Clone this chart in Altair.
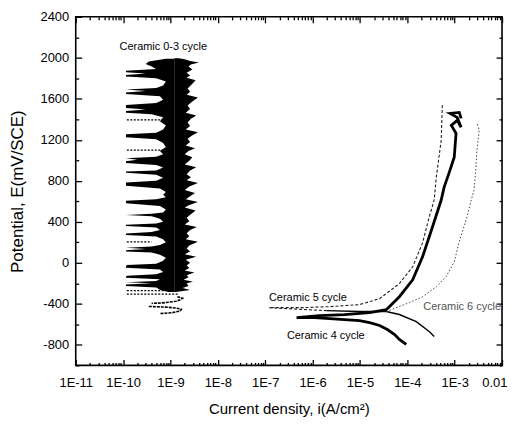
import altair as alt
import pandas as pd

# ---------------- data ----------------
# Ceramic 0-3 cycle: noisy band, left boundary (E in mV, i in A/cm2)
C03_LEFT_E = [-285, -262, -240, -225, -212, -200, -188, -176, -160, -145, -135, -125, -112, -90, -65,
              -48, -35, -22, -8, 20, 50, 80, 100, 112, 124, 136, 148, 160, 175, 200, 230, 258, 272, 286,
              300, 320, 345, 360, 372, 384, 400, 430, 455, 466, 478, 492, 520, 555, 582, 594, 606, 620,
              640, 665, 690, 725, 752, 768, 784, 800, 830, 860, 878, 890, 902, 930, 955, 975, 990, 1005,
              1020, 1035, 1060, 1090, 1130, 1170, 1205, 1225, 1240, 1255, 1270, 1300, 1340, 1380, 1420,
              1450, 1465, 1480, 1495, 1510, 1525, 1540, 1560, 1590, 1625, 1648, 1662, 1676, 1690, 1705,
              1730, 1770, 1800, 1818, 1832, 1846, 1860, 1874, 1890, 1915, 1940, 1965, 1990]
C03_LEFT_I = [9e-10, 6e-10, 5e-10, 1.15e-10, 1.15e-10, 4e-10, 1.15e-10, 5e-10, 6e-10, 1.15e-10, 1.15e-10,
              1.2e-10, 5e-10, 7e-10, 6e-10, 1.15e-10, 1.15e-10, 1.2e-10, 5e-10, 7e-10, 8e-10, 6e-10, 4e-10,
              1.15e-10, 1.15e-10, 3e-10, 1.15e-10, 4e-10, 6e-10, 8e-10, 7e-10, 5e-10, 1.15e-10, 1.15e-10,
              4e-10, 6e-10, 5e-10, 1.15e-10, 1.15e-10, 5e-10, 7e-10, 6e-10, 4e-10, 1.15e-10, 4e-10, 7e-10,
              8e-10, 6e-10, 1.15e-10, 1.15e-10, 1.15e-10, 5e-10, 8e-10, 7e-10, 8e-10, 6e-10, 1.15e-10,
              1.15e-10, 1.15e-10, 5e-10, 7e-10, 5e-10, 1.15e-10, 1.15e-10, 5e-10, 7e-10, 5e-10, 1.15e-10,
              1.15e-10, 2e-10, 1.15e-10, 5e-10, 7e-10, 6e-10, 8e-10, 7e-10, 5e-10, 1.15e-10, 1.15e-10,
              1.15e-10, 5e-10, 7e-10, 8e-10, 6e-10, 7e-10, 4e-10, 1.15e-10, 1.15e-10, 3e-10, 1.15e-10,
              1.15e-10, 1.15e-10, 5e-10, 7e-10, 6e-10, 1.15e-10, 1.15e-10, 3e-10, 1.15e-10, 5e-10, 7e-10,
              8e-10, 5e-10, 1.15e-10, 1.15e-10, 3e-10, 1.15e-10, 1.15e-10, 5e-10, 4e-10, 3e-10, 3.5e-10,
              8e-10]
# Ceramic 0-3 cycle: right boundary
C03_RIGHT_E = [-285, -265, -245, -225, -200, -184, -165, -140, -120, -95, -75, -50, -25, 0, 30, 59, 85,
               110, 140, 170, 205, 230, 260, 290, 320, 350, 375, 405, 440, 475, 510, 540, 565, 593, 620,
               650, 681, 710, 745, 778, 805, 835, 865, 900, 933, 960, 995, 1030, 1060, 1090, 1118, 1145,
               1180, 1210, 1240, 1273, 1300, 1335, 1370, 1405, 1438, 1465, 1500, 1535, 1570, 1613, 1640,
               1670, 1700, 1740, 1780, 1805, 1827, 1855, 1885, 1915, 1935, 1953, 1970, 1985, 1995]
C03_RIGHT_I = [1.3e-9, 2.6e-9, 1.8e-9, 2.4e-9, 2.2e-9, 3.0e-9, 1.9e-9, 2.4e-9, 2.2e-9, 3.2e-9, 2.0e-9,
               2.5e-9, 2.2e-9, 2.6e-9, 2.1e-9, 3.5e-9, 2.0e-9, 2.6e-9, 2.2e-9, 2.5e-9, 3.8e-9, 2.1e-9,
               2.5e-9, 2.2e-9, 2.6e-9, 3.6e-9, 2.0e-9, 2.5e-9, 2.2e-9, 2.7e-9, 3.4e-9, 2.0e-9, 2.5e-9,
               3.8e-9, 2.1e-9, 2.6e-9, 3.3e-9, 2.0e-9, 2.5e-9, 3.8e-9, 2.2e-9, 2.7e-9, 2.2e-9, 2.6e-9,
               3.5e-9, 2.0e-9, 2.5e-9, 2.9e-9, 2.0e-9, 2.4e-9, 3.3e-9, 2.1e-9, 2.6e-9, 2.3e-9, 2.8e-9,
               3.8e-9, 2.1e-9, 2.6e-9, 2.3e-9, 2.7e-9, 3.5e-9, 2.1e-9, 2.6e-9, 2.3e-9, 2.8e-9, 3.8e-9,
               2.2e-9, 2.6e-9, 2.3e-9, 2.8e-9, 3.4e-9, 2.2e-9, 2.6e-9, 2.2e-9, 2.9e-9, 2.4e-9, 2.7e-9,
               4.0e-9, 2.6e-9, 2.0e-9, 1.5e-9]
# Ceramic 0-3 cycle: speckled (dotted) horizontal traces
C03_DOT_E = [1395, 1100, 205, -270, -305]
C03_DOT_I1 = [1.2e-10, 1.2e-10, 1.2e-10, 1.2e-10, 1.2e-10]
C03_DOT_I2 = [8e-10, 8e-10, 4e-10, 8e-10, 1.5e-9]
# Ceramic 0-3 cycle: small tail below the band
C03_TAIL_SEG = ["a"] * 6 + ["b"] * 7
C03_TAIL_E = [-330, -345, -360, -375, -390, -395, -425, -432, -440, -452, -470, -485, -495]
C03_TAIL_I = [1.4e-9, 1.8e-9, 1.6e-9, 1.3e-9, 7e-10, 4e-10,
              3.5e-10, 8e-10, 1.3e-9, 1.7e-9, 1.6e-9, 1.1e-9, 6e-10]

# Ceramic 4 cycle (cathodic end -> Ecorr -> anodic)
C4_E = [-796, -747, -699, -650, -611, -582, -563, -553, -543, -534, -534, -514, -504, -485, -456,
        -330, -165, 59, 350, 613, 739, 875, 1030, 1263, 1341, 1390, 1322, 1419, 1458, 1467, 1409]
C4_I = [9.5e-5, 6.8e-5, 5.4e-5, 3.8e-5, 2.6e-5, 1.6e-5, 9.8e-6, 4.7e-6, 2.3e-6, 1.1e-6, 4.6e-7,
        1.4e-6, 4.7e-6, 1.6e-5, 3.6e-5, 6.8e-5, 1.3e-4, 2.1e-4, 3.4e-4, 5.2e-4, 6.0e-4, 7.6e-4,
        9.8e-4, 1.07e-3, 8.5e-4, 1.13e-3, 1.37e-3, 1.13e-3, 8.0e-4, 1.25e-3, 1.37e-3]

# Ceramic 5 cycle: cathodic branch (solid) and Ecorr / anodic branch (dashed)
C5_CATH_E = [-718, -670, -573, -504, -475, -475, -466]
C5_CATH_I = [3.7e-4, 2.9e-4, 1.55e-4, 6.8e-5, 3.6e-5, 9.8e-6, 2.0e-6]
C5_AN_E = [-466, -437, -437, -427, -407, -349, -203, -38, 195, 447, 613, 836, 1195, 1555]
C5_AN_I = [2.0e-6, 1.2e-7, 6e-7, 2.3e-6, 9.8e-6, 2.6e-5, 6.8e-5, 1.3e-4, 2.1e-4, 2.9e-4, 3.7e-4,
           4.1e-4, 5.2e-4, 5.5e-4]

# Ceramic 6 cycle: anodic branch (dotted)
C6_E = [-475, -388, -330, -233, -135, 10, 195, 447, 613, 710, 933, 1098, 1293, 1370]
C6_I = [3.6e-5, 1.1e-4, 2.1e-4, 4.1e-4, 6.6e-4, 9.8e-4, 1.23e-3, 1.82e-3, 2.24e-3, 2.57e-3,
        2.82e-3, 2.95e-3, 3.3e-3, 2.95e-3]

# annotations
LABELS = ["Ceramic 0-3 cycle", "Ceramic 5 cycle", "Ceramic 4 cycle"]
LABEL_I = [8.4e-11, 1.2e-7, 2.87e-7]
LABEL_E = [2109, -339, -718]
LABEL6 = ["Ceramic 6 cycle"]
LABEL6_I = [2.18e-4]
LABEL6_E = [-427]

# axis ticks
X_MAJOR = [1e-11, 1e-10, 1e-9, 1e-8, 1e-7, 1e-6, 1e-5, 1e-4, 1e-3, 1e-2]
X_MINOR = [m * d for d in X_MAJOR[:-1] for m in range(2, 10)]
Y_MAJOR = [-800, -400, 0, 400, 800, 1200, 1600, 2000, 2400]
Y_MINOR = [-1000, -600, -200, 200, 600, 1000, 1400, 1800, 2200]

FONT = "Liberation Sans"

# ---------------- chart ----------------
def frame(E, I, **extra):
    d = {"E": E, "i": I, "k": list(range(len(E)))}
    d.update(extra)
    return pd.DataFrame(d)

xs = alt.Scale(type="log", domain=[1e-11, 1e-2], nice=False)
ys = alt.Scale(domain=[-1000, 2400], nice=False, zero=False)

def X(field="i:Q"):
    return alt.X(field, scale=xs, axis=None)

def Y(field="E:Q"):
    return alt.Y(field, scale=ys, axis=None)

MID = 1.2e-9
core_left = alt.Chart(frame(C03_LEFT_E, C03_LEFT_I)).mark_area(
    orient="horizontal", color="black").encode(y=Y(), x=X(), x2=alt.datum(MID))
core_right = alt.Chart(frame(C03_RIGHT_E, C03_RIGHT_I)).mark_area(
    orient="horizontal", color="black").encode(y=Y(), x=X(), x2=alt.datum(MID))
dots = alt.Chart(pd.DataFrame({"E": C03_DOT_E, "i1": C03_DOT_I1, "i2": C03_DOT_I2})).mark_rule(
    color="black", strokeDash=[2, 1.5], strokeWidth=1.3).encode(y=Y(), x=X("i1:Q"), x2="i2:Q")
tail = alt.Chart(frame(C03_TAIL_E, C03_TAIL_I, seg=C03_TAIL_SEG)).mark_line(
    color="black", strokeWidth=1.6, strokeDash=[3, 1]).encode(
    y=Y(), x=X(), detail="seg:N", order="k:Q")

c4 = alt.Chart(frame(C4_E, C4_I)).mark_line(color="black", strokeWidth=2.8).encode(
    y=Y(), x=X(), order="k:Q")
c5c = alt.Chart(frame(C5_CATH_E, C5_CATH_I)).mark_line(color="black", strokeWidth=1.4).encode(
    y=Y(), x=X(), order="k:Q")
c5a = alt.Chart(frame(C5_AN_E, C5_AN_I)).mark_line(
    color="#222", strokeWidth=1.1, strokeDash=[3, 2]).encode(y=Y(), x=X(), order="k:Q")
c6 = alt.Chart(frame(C6_E, C6_I)).mark_line(
    color="#444", strokeWidth=1.0, strokeDash=[1.5, 2]).encode(y=Y(), x=X(), order="k:Q")

labels = alt.Chart(pd.DataFrame({"t": LABELS, "i": LABEL_I, "E": LABEL_E})).mark_text(
    align="left", baseline="middle", font=FONT, fontSize=11, color="black").encode(
    x=X(), y=Y(), text="t:N")
label6 = alt.Chart(pd.DataFrame({"t": LABEL6, "i": LABEL6_I, "E": LABEL6_E})).mark_text(
    align="left", baseline="middle", font=FONT, fontSize=11, color="#555", clip=True).encode(
    x=X(), y=Y(), text="t:N")

# axes: inward ticks made by negative offsets, major and minor separately
x_label_expr = "datum.value >= 0.005 ? '0.01' : '1E' + round(log(datum.value) / LN10)"
common = dict(domain=False, grid=False, ticks=True, tickColor="black", tickWidth=1.3, tickOpacity=1)

def axis_layer(xaxis, yaxis):
    return alt.Chart(frame(C4_E, C4_I)).mark_point(opacity=0).encode(
        x=alt.X("i:Q", scale=xs, axis=xaxis), y=alt.Y("E:Q", scale=ys, axis=yaxis))

ax1 = axis_layer(
    alt.Axis(orient="bottom", values=X_MAJOR, tickSize=6, offset=-6, labelExpr=x_label_expr,
             labelFont=FONT, labelFontSize=13, labelColor="black", labelPadding=11,
             labelOverlap=False, labelFlush=False,
             labelAlign={"condition": {"test": "datum.value >= 0.005", "value": "right"}, "value": "center"},
             labelOffset={"condition": {"test": "datum.value >= 0.005", "value": 5}, "value": 0},
             title="Current density, i(A/cm²)", titleFont=FONT, titleFontSize=15,
             titleFontWeight="normal", titleColor="black", titlePadding=12, **common),
    alt.Axis(orient="left", values=Y_MAJOR, tickSize=6, offset=-6, labelExpr="'' + datum.value",
             labelFont=FONT, labelFontSize=13, labelColor="black", labelPadding=7,
             labelOverlap=False, labelFlush=False,
             title="Potential, E(mV/SCE)", titleFont=FONT, titleFontSize=17,
             titleFontWeight="normal", titleColor="black", titlePadding=14, **common))
ax2 = axis_layer(
    alt.Axis(orient="bottom", values=X_MINOR, tickSize=3, offset=-3, labels=False, title=None, **common),
    alt.Axis(orient="left", values=Y_MINOR, tickSize=3, offset=-3, labels=False, title=None, **common))
ax3 = axis_layer(
    alt.Axis(orient="top", values=X_MAJOR, tickSize=6, offset=-6, labels=False, title=None, **common),
    alt.Axis(orient="right", values=Y_MAJOR, tickSize=6, offset=-6, labels=False, title=None, **common))
ax4 = axis_layer(
    alt.Axis(orient="top", values=X_MINOR, tickSize=3, offset=-3, labels=False, title=None, **common),
    alt.Axis(orient="right", values=Y_MINOR, tickSize=3, offset=-3, labels=False, title=None, **common))

chart = alt.layer(
    ax1, ax2, ax3, ax4,
    core_left, core_right, dots, tail, c4, c5c, c5a, c6, labels, label6,
).resolve_axis(x="independent", y="independent").properties(
    width=428, height=350,
    autosize=alt.AutoSizeParams(type="none"),
    padding={"left": 68, "top": 8, "right": 6, "bottom": 55},
    background="white",
).configure(font=FONT).configure_view(stroke="black", strokeWidth=1.6)

chart.save("out.html", embed_options={"renderer": "svg", "actions": False})
